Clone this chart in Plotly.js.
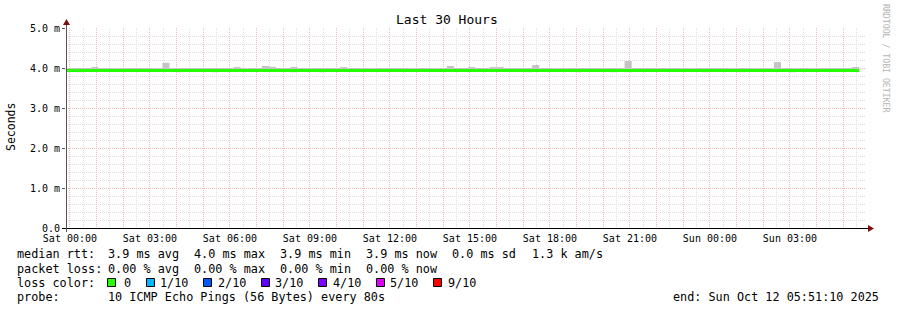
<!DOCTYPE html>
<html>
<head>
<meta charset="utf-8">
<script src="https://cdn.plot.ly/plotly-3.0.1.min.js"></script>
<style>html,body{margin:0;padding:0;background:#fff;}#chart{width:897px;height:310px;}</style>
</head>
<body>
<div id="chart"></div>
<script>
// ---- data ----
const binStart = '2025-10-10 23:44:00';   // first 16-minute RRD bin
const binMinutes = 16;
const smokeTop = [
 4.0,4.0,4.0,4.0,4.025,4.0,4.0,4.0,4.0,4.0,4.0,4.0,4.0,4.0,4.13,4.0,
 4.0,4.0,4.0,4.0,4.0,4.0,4.0,4.0,4.025,4.0,4.0,4.0,4.05,4.03,4.0,4.0,
 4.025,4.0,4.0,4.0,4.0,4.0,4.0,4.025,4.0,4.0,4.0,4.0,4.0,4.0,4.0,4.0,
 4.0,4.0,4.0,4.0,4.0,4.0,4.05,4.0,4.0,4.025,4.0,4.0,4.025,4.025,4.0,4.0,
 4.0,4.0,4.075,4.0,4.0,4.0,4.0,4.0,4.0,4.0,4.0,4.0,4.0,4.0,4.0,4.175,
 4.0,4.0,4.0,4.0,4.0,4.0,4.0,4.0,4.0,4.0,4.0,4.0,4.0,4.0,4.0,4.0,
 4.0,4.0,4.0,4.0,4.15,4.0,4.0,4.0,4.0,4.0,4.0,4.0,4.0,4.0,4.0,4.025
];
const smokeBottom = [
 3.92,3.92,3.885,3.92,3.92,3.92,3.92,3.92,3.92,3.92,3.92,3.92,3.92,3.92,3.92,3.92,
 3.885,3.92,3.92,3.92,3.92,3.885,3.92,3.92,3.92,3.92,3.92,3.92,3.92,3.92,3.92,3.92,
 3.885,3.92,3.92,3.92,3.885,3.92,3.92,3.92,3.92,3.92,3.92,3.92,3.92,3.92,3.92,3.92,
 3.92,3.92,3.92,3.92,3.92,3.92,3.92,3.92,3.92,3.92,3.92,3.92,3.92,3.92,3.92,3.92,
 3.92,3.885,3.92,3.92,3.92,3.92,3.92,3.92,3.885,3.92,3.92,3.92,3.92,3.885,3.92,3.885,
 3.92,3.92,3.92,3.92,3.92,3.92,3.92,3.92,3.92,3.92,3.885,3.92,3.92,3.92,3.92,3.885,
 3.92,3.92,3.92,3.92,3.92,3.92,3.885,3.92,3.92,3.92,3.92,3.92,3.92,3.92,3.92,3.92
];
const smokeMid = 3.92;
const medianRtt = [
 3.94,3.94,3.94,3.94,3.94,3.94,3.94,3.94,3.94,3.94,3.94,3.94,3.94,3.94,3.94,3.94,
 3.94,3.94,3.94,3.94,3.94,3.94,3.94,3.94,3.94,3.94,3.94,3.94,3.94,3.94,3.94,3.94,
 3.94,3.94,3.94,3.94,3.94,3.94,3.94,3.94,3.94,3.94,3.94,3.94,3.94,3.94,3.94,3.94,
 3.94,3.94,3.94,3.94,3.94,3.94,3.94,3.94,3.94,3.94,3.94,3.94,3.94,3.94,3.94,3.94,
 3.94,3.94,3.94,3.94,3.94,3.94,3.94,3.94,3.94,3.94,3.94,3.94,3.94,3.94,3.94,3.94,
 3.94,3.94,3.94,3.94,3.94,3.94,3.94,3.94,3.94,3.94,3.94,3.94,3.94,3.94,3.94,3.94,
 3.94,3.94,3.94,3.94,3.94,3.94,3.94,3.94,3.94,3.94,3.94,3.94,3.94,3.94,3.94,3.94
];
const xRange = ['2025-10-10 23:51:10', '2025-10-12 05:51:10'];
const hourTicks = ['2025-10-11 00:00','2025-10-11 01:00','2025-10-11 02:00','2025-10-11 03:00','2025-10-11 04:00','2025-10-11 05:00',
 '2025-10-11 06:00','2025-10-11 07:00','2025-10-11 08:00','2025-10-11 09:00','2025-10-11 10:00','2025-10-11 11:00',
 '2025-10-11 12:00','2025-10-11 13:00','2025-10-11 14:00','2025-10-11 15:00','2025-10-11 16:00','2025-10-11 17:00',
 '2025-10-11 18:00','2025-10-11 19:00','2025-10-11 20:00','2025-10-11 21:00','2025-10-11 22:00','2025-10-11 23:00',
 '2025-10-12 00:00','2025-10-12 01:00','2025-10-12 02:00','2025-10-12 03:00','2025-10-12 04:00','2025-10-12 05:00'];
const xTickLabels = ['Sat 00:00','Sat 03:00','Sat 06:00','Sat 09:00','Sat 12:00','Sat 15:00','Sat 18:00','Sat 21:00','Sun 00:00','Sun 03:00'];
const yTickVals = [0,1,2,3,4,5];
const yTickLabels = ['0.0','1.0 m','2.0 m','3.0 m','4.0 m','5.0 m'];
const title = 'Last 30 Hours';
const yTitle = 'Seconds';
const rttStats = ['3.9 ms avg','4.0 ms max','3.9 ms min','3.9 ms now','0.0 ms sd','1.3 k am/s'];
const lossStats = ['0.00 % avg','0.00 % max','0.00 % min','0.00 % now'];
const lossLabels = ['0','1/10','2/10','3/10','4/10','5/10','9/10'];
const lossColors = ['#26ff00','#00b8ff','#0059ff','#5e00ff','#7e00ff','#dd00ff','#ff0000'];
const probeText = '10 ICMP Echo Pings (56 Bytes) every 80s';
const endText = 'end: Sun Oct 12 05:51:10 2025';

// ---- build ----
const FONT = 'DejaVu Sans Mono';
const L=66, R=866, T=28, B=228;
const px = x => (x-L)/(R-L);
const py = y => (B-y)/(B-T);

const t0 = new Date(binStart.replace(' ','T')+'Z').getTime();
const step = binMinutes*60000;
const pad = n => String(n).padStart(2,'0');
const fmt = ms => { const d=new Date(ms); return d.getUTCFullYear()+'-'+pad(d.getUTCMonth()+1)+'-'+pad(d.getUTCDate())+' '+pad(d.getUTCHours())+':'+pad(d.getUTCMinutes())+':'+pad(d.getUTCSeconds()); };
const xBins = smokeTop.map((_,i)=>fmt(t0+i*step));
const xEdges = xBins.concat([fmt(t0+smokeTop.length*step)]);

const traces = [
  { type:'bar', x:xBins, base:smokeBottom, y:smokeBottom.map(v=>smokeMid-v), width:step, offset:0,
    marker:{color:'#e8e8e8', line:{width:0}}, hoverinfo:'skip', showlegend:false },
  { type:'bar', x:xBins, base:smokeTop.map(()=>smokeMid), y:smokeTop.map(v=>v-smokeMid), width:step, offset:0,
    marker:{color:'#c4c4c4', line:{width:0}}, hoverinfo:'skip', showlegend:false },
  { type:'scatter', mode:'lines', x:xEdges, y:medianRtt.concat([medianRtt[medianRtt.length-1]]),
    line:{color:lossColors[0], width:3, shape:'hv'}, hoverinfo:'skip', showlegend:false }
];

const hourText = hourTicks.map((_,i)=> i%3===0 ? xTickLabels[i/3] : '');

const ann = [];
const A = (x,y,text,opt={}) => ann.push(Object.assign({xref:'paper',yref:'paper',x:px(x),y:py(y),text:text,showarrow:false,
  xanchor:'left',yanchor:'middle',borderpad:0,font:{family:FONT,size:11.8,color:'#000'}},opt));
A(447,19,title,{xanchor:'center',font:{family:FONT,size:13,color:'#000'}});
A(11,127,yTitle,{xanchor:'center',textangle:-90,font:{family:FONT,size:11.5,color:'#000'}});
A(886,59,'RRDTOOL / TOBI OETIKER',{xanchor:'center',textangle:90,font:{family:FONT,size:8.2,color:'#b4b4b4'}});
const cols = [107,193,279,365,451,531];
A(16,254,'median rtt:');
rttStats.forEach((s,i)=>A(cols[i],254,s));
A(16,268.5,'packet loss:');
lossStats.forEach((s,i)=>A(cols[i],268.5,s));
A(16,282.5,'loss color:');
const sqX = [107,146,203,261,318,376,433];
const lblX = [123,159,217,274,332,389,447];
lossLabels.forEach((s,i)=>A(lblX[i],282.5,s));
A(16,297,'probe:');
A(107,297,probeText);
A(880,297,endText,{xanchor:'right'});

const shapes = [];
lossColors.forEach((c,i)=>shapes.push({type:'rect',xref:'paper',yref:'paper',x0:px(sqX[i]+0.5),x1:px(sqX[i]+8.5),y0:py(278.5),y1:py(286.5),
  fillcolor:c,line:{color:'#000',width:1},layer:'above'}));
// axis lines with arrows
shapes.push({type:'line',xref:'paper',yref:'paper',x0:px(62),x1:px(869),y0:py(228.5),y1:py(228.5),line:{color:'#000',width:1},layer:'above'});
shapes.push({type:'path',xref:'paper',yref:'paper',path:`M ${px(868)} ${py(225)} L ${px(874)} ${py(228.5)} L ${px(868)} ${py(232)} Z`,fillcolor:'#7f1010',line:{width:0},layer:'above'});
shapes.push({type:'line',xref:'paper',yref:'paper',x0:px(66.5),x1:px(66.5),y0:py(232),y1:py(24),line:{color:'#555',width:1},layer:'above'});
shapes.push({type:'path',xref:'paper',yref:'paper',path:`M ${px(63)} ${py(25)} L ${px(66.5)} ${py(19)} L ${px(70)} ${py(25)} Z`,fillcolor:'#7f1010',line:{width:0},layer:'above'});

const layout = {
  width:897, height:310,
  margin:{l:L, r:897-R, t:T, b:310-B},
  paper_bgcolor:'#ffffff', plot_bgcolor:'#ffffff',
  barmode:'overlay',
  showlegend:false,
  font:{family:FONT,size:10,color:'#000'},
  xaxis:{type:'date', range:xRange, tickmode:'array', tickvals:hourTicks, ticktext:hourText,
    showgrid:true, gridcolor:'#f3b8b8', griddash:'1px,1px', gridwidth:1,
    minor:{tickmode:'linear', tick0:'2025-10-11 00:30', dtick:3600000, showgrid:true, gridcolor:'#dddddd', griddash:'1px,1px', gridwidth:1},
    zeroline:false, showline:false, ticks:'', ticklabelstandoff:3, tickfont:{family:FONT,size:10,color:'#000'}, fixedrange:true},
  yaxis:{range:[0,5], tickmode:'array', tickvals:yTickVals, ticktext:yTickLabels,
    showgrid:true, gridcolor:'#f3b8b8', griddash:'1px,1px', gridwidth:1,
    minor:{dtick:0.2, showgrid:true, gridcolor:'#dddddd', griddash:'1px,1px', gridwidth:1},
    zeroline:false, showline:false, ticks:'outside', ticklen:3, tickcolor:'#555',
    tickfont:{family:FONT,size:10,color:'#000'}, fixedrange:true},
  annotations:ann,
  shapes:shapes
};
Plotly.newPlot('chart', traces, layout, {staticPlot:true, displayModeBar:false});
</script>
</body>
</html>
